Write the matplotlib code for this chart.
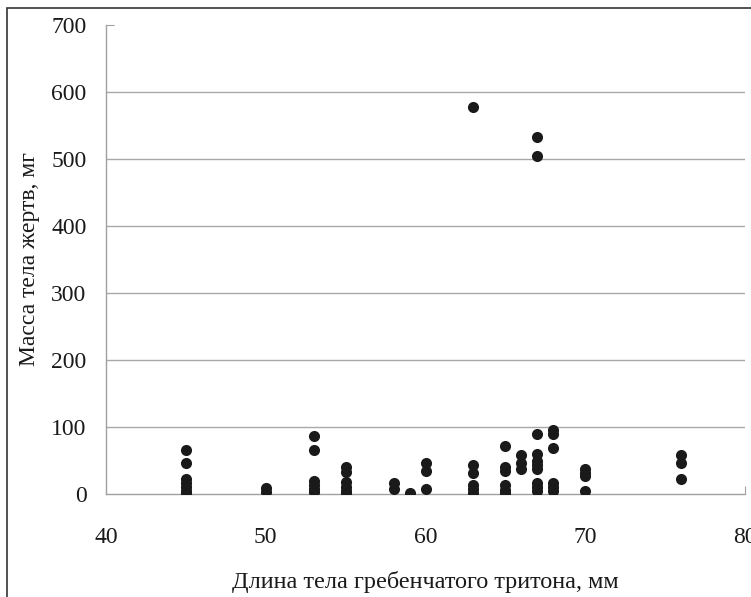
import matplotlib
matplotlib.use("Agg")
import matplotlib.pyplot as plt
from matplotlib.patches import Rectangle

# Data: body length of newt (mm) and prey mass (mg)
lengths = [45]*7 + [50]*2 + [53]*6 + [55]*6 + [58]*2 + [59] + [60]*3 + \
          [63]*6 + [65]*6 + [66]*3 + [67]*10 + [68]*6 + [70]*4 + [76]*3
masses = [65, 47, 23, 16, 10, 5, 2,
          9, 3,
          87, 65, 20, 14, 8, 3,
          40, 33, 18, 11, 5, 1,
          16, 7,
          2,
          47, 35, 7,
          577, 43, 32, 13, 7, 2,
          71, 41, 35, 13, 6, 1,
          58, 46, 37,
          533, 504, 90, 60, 50, 43, 37, 16, 10, 5,
          95, 90, 69, 17, 11, 5,
          38, 32, 27, 5,
          58, 46, 22]
x_ticks = [40, 50, 60, 70, 80]
y_ticks = [0, 100, 200, 300, 400, 500, 600, 700]

plt.rcParams['font.family'] = ['Liberation Serif', 'DejaVu Serif']

fig = plt.figure(figsize=(7.51, 5.97), dpi=100)
ax = fig.add_axes([106/751, 1-494/597, (745-106)/751, (494-25)/597])

ax.scatter(lengths, masses, s=64, color='#1a1a1a', zorder=3, linewidths=0)

ax.set_xlim(40, 80)
ax.set_ylim(0, 700)
ax.set_xticks(x_ticks)
ax.set_yticks(y_ticks)

ax.grid(axis='y', color='#a8a8a8', linewidth=1)
ax.set_axisbelow(True)
for sp in ['top', 'right']:
    ax.spines[sp].set_visible(False)
for sp in ['left', 'bottom']:
    ax.spines[sp].set_color('#a0a0a0')
    ax.spines[sp].set_linewidth(1)

ax.tick_params(axis='y', direction='in', length=6, color='#a0a0a0', pad=14, labelsize=17, labelcolor='#1a1a1a')
ax.tick_params(axis='x', direction='in', length=6, color='#a0a0a0', pad=24, labelsize=17, labelcolor='#1a1a1a')

for val, tick in zip(y_ticks, ax.yaxis.get_major_ticks()):
    if val != 700:
        tick.tick1line.set_visible(False)
    if val in (0, 700):
        tick.gridline.set_visible(False)
    tick.tick2line.set_visible(False)
for val, tick in zip(x_ticks, ax.xaxis.get_major_ticks()):
    if val != 80:
        tick.tick1line.set_visible(False)
    tick.tick2line.set_visible(False)

ax.set_xlabel('Длина тела гребенчатого тритона, мм', fontsize=17.5, color='#1a1a1a', labelpad=16)
ax.set_ylabel('Масса тела жертв, мг', fontsize=17, color='#1a1a1a', labelpad=8)

fig.patches.append(Rectangle((7/751, -0.2), 2, 1-8/597+0.2, transform=fig.transFigure,
                             fill=False, edgecolor='#333333', linewidth=1.2))

fig.savefig('out.png', dpi=100)
